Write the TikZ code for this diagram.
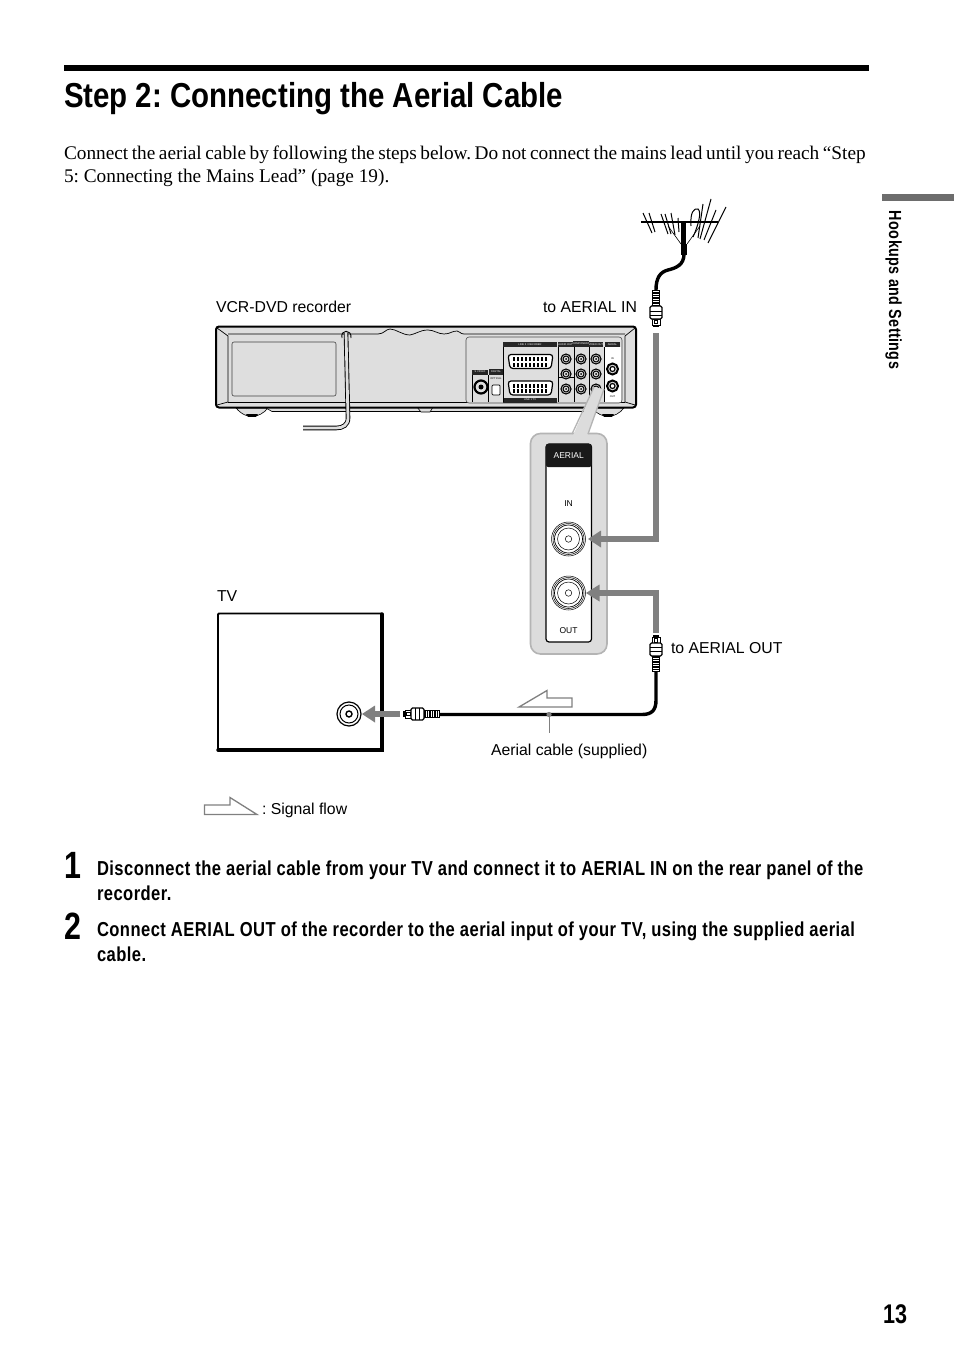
\documentclass[tikz,border=0pt]{standalone}
\usepackage{fontspec}
\setmainfont{Liberation Serif}
\setsansfont{Liberation Sans}
\newfontfamily\condb{Liberation Sans}[FakeStretch=0.8]
\newfontfamily\condt{Liberation Sans}[FakeStretch=0.85]
\newfontfamily\condc{Liberation Sans}[FakeStretch=0.82,LetterSpace=2.2]
\newcommand{\fsz}[1]{\fontsize{#1bp}{#1bp}\selectfont}
\definecolor{flowgray}{HTML}{808080}
\definecolor{boxgray}{HTML}{DCDCDC}
\definecolor{boxedge}{HTML}{B4B4B4}
\definecolor{bodygray}{HTML}{DEDEDE}
\tikzset{
  every node/.style={inner sep=0pt,outer sep=0pt},
  label/.style={font=\sffamily\fsz{15.8},anchor=base west,text=black},
  body/.style={font=\rmfamily\fsz{19.3},anchor=base west,text=black},
  stepline/.style={font=\condc\bfseries\fsz{20.2},anchor=base west,text=black},
  stepnum/.style={font=\condb\bfseries\fsz{38},anchor=base west,text=black},
  flow/.style={draw=flowgray,line width=6bp},
  flowhead/.style={fill=flowgray,draw=none},
  outlinearrow/.style={draw=flowgray,fill=white,line width=1.3bp,line join=miter},
  cablewire/.style={draw=black,line width=3.4bp},
  port/.style={circle,draw=black,line width=.7bp,fill=white},
  tinyhead/.style={fill=black!85,text=white,font=\sffamily\fsz{2.6},align=center,inner sep=0pt},
  tinytext/.style={font=\sffamily\fsz{2.6},text=black},
  plugpic/.pic={
    \fill[black] (0,-3.2) rectangle (2,3.2);
    \draw[black,fill=white,line width=.9bp] (2,-4) rectangle (8,4);
    \draw[black,line width=.7bp] (3.5,-1.5) rectangle (7,1.5);
    \draw[black,fill=white,line width=1.1bp,rounded corners=1.5bp] (8,-6) rectangle (21,6);
    \draw[black,line width=.8bp] (12,-6)--(12,6) (16,-6)--(16,6);
    \fill[black] (21,-4.2) rectangle (37,4.2);
    \foreach \q in {23,25.5,...,36}{\draw[white,line width=.7bp] (\q,-3.2)--(\q,3.2);}
  }
}
\begin{document}
\frenchspacing
\begin{tikzpicture}[x=1bp,y=-1bp]
\useasboundingbox (0,0) rectangle (954,1352);
\fill[white] (0,0) rectangle (954,1352);

% page furniture
\fill[black] (64,65) rectangle (869,71);
\node[font=\condt\bfseries\fsz{34.65},anchor=base west] (title) at (64,108) {Step 2: Connecting the Aerial Cable};
\node[body] (introa) at (64,160) {\spaceskip=3.55bp Connect the aerial cable by following the steps below. Do not connect the mains lead until you reach “Step};
\node[body] (introb) at (64,183) {5: Connecting the Mains Lead” (page 19).};
\fill[flowgray!85!black] (882,194) rectangle (954,201.5);
\node[font=\condc\bfseries\fsz{17.5},rotate=-90,anchor=base west] (side) at (889,211) {Hookups and Settings};
\node[font=\condb\bfseries\fsz{27},anchor=base west] (pagenum) at (883,1323) {13};

% labels
\node[label] (lrec) at (216,312) {VCR-DVD recorder};
\node[label] (lin) at (543,312) {to AERIAL IN};
\node[label] (ltv) at (217,601) {TV};
\node[label] (lout) at (671,653) {to AERIAL OUT};
\node[label] (lcable) at (491,755) {Aerial cable (supplied)};
\node[label] (lflow) at (262,814) {: Signal flow};

% recorder
\draw[black,fill=bodygray,line width=.6bp] (236,408) .. controls (242,415) and (248,416.5) .. (252,416.5) .. controls (258,416.5) and (264,413) .. (268,408) -- cycle;
\fill[black] (246,414) -- (258,414) -- (256,416.8) -- (248,416.8) -- cycle;
\draw[black,fill=bodygray,line width=.6bp] (592,408) .. controls (596,414) and (604,416.5) .. (608,416.5) .. controls (614,416.5) and (620,413) .. (624,408) -- cycle;
\fill[black] (602,414) -- (614,414) -- (612,416.8) -- (604,416.8) -- cycle;
\draw[black,fill=bodygray,line width=.6bp] (266,408) -- (272,411.5) -- (592,411.5) -- (592,408);
\draw[black,fill=bodygray,line width=.6bp] (417,407) -- (421,412) -- (430,412) -- (433,407);
\draw[black,fill=bodygray,line width=2bp,rounded corners=3bp] (216,326.5) rectangle (636,407.5);
\draw[black,line width=.7bp] (217,328) -- (228,336) -- (228,402) -- (217,405);
\draw[black,line width=.7bp] (635,328) -- (625,336) -- (625,402) -- (635,405);
\draw[black,line width=.7bp] (228,402) -- (625,402);
\draw[black!75,line width=.6bp,rounded corners=2bp] (232,342) rectangle (336,396);
\draw[black,line width=.7bp] (228,334) -- (352,334) -- (378,334) .. controls (384,334) and (386,329) .. (390,329)
  .. controls (396,329) and (402,335) .. (410,335) .. controls (416,334) and (420,330) .. (428,330)
  .. controls (434,330) and (438,334) .. (444,334) .. controls (450,334) and (452,331) .. (457,331)
  .. controls (460,331) and (460,334) .. (464,334) -- (625,334);

% panel of the recorder
\draw[black!70,fill=bodygray,line width=.6bp,rounded corners=3bp] (466,337) rectangle (622,403);
\fill[white] (605,347) rectangle (621,402);
\node[tinyhead,minimum width=54bp,minimum height=5bp] (hscarta) at (530,344.5) {LINE 3 / DECODER};
\node[tinyhead,minimum width=54bp,minimum height=5bp] (hscartb) at (530,400) {LINE 1 TV};
\node[tinyhead,minimum width=15bp,minimum height=5bp] (haudio) at (565.5,344.5) {AUDIO OUT};
\node[tinyhead,minimum width=14bp,minimum height=6bp] (hcomp) at (581,344) {COMPONENT};
\node[tinyhead,minimum width=14bp,minimum height=5bp] (hvideo) at (596,344.5) {VIDEO OUT};
\node[tinyhead,minimum width=15bp,minimum height=5bp] (haerial) at (612.5,344.5) {AERIAL};
\node[tinyhead,minimum width=16bp,minimum height=5bp] (hsv) at (480,372) {S VIDEO};
\node[tinyhead,minimum width=14bp,minimum height=6bp] (hdig) at (496,372) {DIGITAL};
\draw[black,line width=.5bp] (558,347) -- (558,402) (574,347) -- (574,402) (589,347) -- (589,402) (604,347) -- (604,402)
  (472,375) -- (472,402) (488,375) -- (488,402) (503,347) -- (503,402) (558,377) -- (574,377);
\foreach \n/\yy in {a/354.5,b/381}{
  \draw[black,fill=white,line width=1.2bp,rounded corners=3bp] (508,\yy) -- (553,\yy) -- (551,\yy+14) -- (510,\yy+14) -- cycle;
  \foreach \q in {513,517,...,547}{\fill[black] (\q,\yy+2.5) rectangle (\q+2,\yy+6.5); \fill[black] (\q,\yy+8) rectangle (\q+2,\yy+12);}
}
\foreach \px in {566,581,596}{\foreach \py in {359,374,389}{
  \node[port,minimum size=10bp,line width=1.1bp,fill=bodygray] (p\px\py) at (\px,\py) {};
  \node[port,minimum size=6bp,line width=1bp,fill=bodygray] at (\px,\py) {};
  \fill[black] (\px,\py) circle (1bp);
}}
\foreach \py in {369,386}{
  \node[port,minimum size=11bp,line width=2bp,fill=bodygray] (ae\py) at (612.5,\py) {};
  \node[port,minimum size=5bp,line width=1.2bp] at (612.5,\py) {};
}
\node[port,minimum size=13bp,line width=2.2bp,fill=bodygray] (svid) at (481,387) {};
\fill[black] (481,387) circle (2.5bp);
\draw[black,fill=white,line width=.7bp,rounded corners=1bp] (492,385) rectangle (500,395);
\node[tinytext] (topt) at (496,379) {OPTICAL};
\node[tinytext] (tin) at (612.5,359) {IN};
\node[tinytext] (tout) at (612.5,397) {OUT};

% power cord
\coordinate (cordtop) at (346,333);
\coordinate (cordend) at (303,428);
\draw[black,line width=.9bp] (342,338) .. controls (340,329) and (352,329) .. (351,338);
\draw[black,line width=4.6bp] (cordtop) -- (348,418) .. controls (348,425) and (343,428) .. (336,428) -- (cordend);
\draw[bodygray,line width=2.8bp] (cordtop) -- (348,418) .. controls (348,425) and (343,428) .. (336,428) -- (cordend);

% callout
\draw[boxedge,fill=boxgray,line width=1.6bp,rounded corners=10bp] (530.5,433.5) rectangle (607,654);
\path[fill=boxgray] (572.8,436) -- (594,387) -- (604,389) -- (587.2,436) -- cycle;
\draw[boxedge,line width=1.3bp] (572,434) -- (594,387) (604,389) -- (588,434);
\draw[black,fill=white,line width=1.2bp,rounded corners=3bp] (546,444) rectangle (591.5,642);
\fill[black!90,rounded corners=2bp] (546,444) rectangle (591.5,467);
\node[font=\sffamily\fsz{8.5},text=white] (taerial) at (568.7,456) {AERIAL};
\node[font=\sffamily\fsz{8.5}] (tbig1) at (568.5,504) {IN};
\node[font=\sffamily\fsz{8.5}] (tbig2) at (568.5,631) {OUT};
\foreach \nm/\yy in {portin/539,portout/593}{
  \draw[black,line width=.5bp] (568.5,\yy) circle (17bp) (568.5,\yy) circle (15.5bp);
  \draw[black,line width=.7bp] (568.5,\yy) circle (14bp);
  \draw[black,line width=.5bp] (568.5,\yy) circle (11bp);
  \node[port,minimum size=6.5bp,line width=.5bp] (\nm) at (568.5,\yy) {};
}

% signal flow arrows to the recorder
\coordinate (intop) at (656,333);
\coordinate (outbottom) at (656,633);
\draw[flow] (intop) -- (656,539) -- (598,539);
\fill[flowhead] (588,539) -- (601,530.5) -- (601,547.5) -- cycle;
\draw[flow] (outbottom) -- (656,593) -- (597,593);
\fill[flowhead] (586,593) -- (599.5,584.5) -- (599.5,601.5) -- cycle;

% antenna
\draw[black,line width=1.2bp] (641,222) -- (718,222);
\draw[black,line width=1bp] (643,213) -- (652,233) (649,213) -- (655,232) (661,214) -- (668,234) (665,214) -- (671,234) (671,213) -- (675,235) (678,218) -- (679,232);
\draw[black,line width=1bp] (691,226) .. controls (690,212) and (694,208) .. (698,209) .. controls (702,212) and (698,226) .. (693,237);
\draw[black,line width=1bp] (703,204) -- (698,238) (711,199) -- (700,239) (716,210) -- (704,240) (726,207) -- (708,243);
\draw[black,line width=.6bp] (668,226) -- (681,244) (700,226) -- (687,244);
\fill[black] (681,221) rectangle (686,245);
\fill[black] (680.5,244) rectangle (687,255);
\coordinate (antfoot) at (684,254);
\coordinate (plugupend) at (656,290);
\draw[cablewire] (antfoot) .. controls (684,265) and (676,268) .. (668,270) .. controls (660,272) and (656,278) .. (plugupend);

% plugs
\pic[shift={(656,327)},rotate=90] {plugpic};
\pic[shift={(656,635)},rotate=-90] {plugpic};
\pic[shift={(403,714)}] {plugpic};

% tv
\draw[black,line width=1.8bp,fill=white,rounded corners=1bp] (218,613.5) rectangle (382,750);
\draw[black,line width=3.4bp,line cap=round] (382,614) -- (382,750) -- (218,750);
\node[port,minimum size=24bp,line width=1.2bp] (tvport) at (349,714) {};
\node[port,minimum size=18bp,line width=1bp] at (349,714) {};
\node[port,minimum size=6bp,line width=1.4bp] at (349,714) {};
\coordinate (tvarrowend) at (400,714);
\draw[flow] (tvarrowend) -- (372,714);
\fill[flowhead] (362,714) -- (375,705.5) -- (375,722.5) -- cycle;

% aerial cable
\coordinate (cablea) at (440,714.5);
\coordinate (cableb) at (656,672);
\draw[cablewire] (cablea) -- (642,714.5) .. controls (652,714.5) and (656,710) .. (656,700) -- (cableb);

% outline arrows
\draw[outlinearrow] (519,707) -- (547,690.5) -- (547,698) -- (572,698) -- (572,707) -- cycle;
\draw[outlinearrow] (204.5,805) -- (230,805) -- (230,797.5) -- (257,814.5) -- (204.5,814.5) -- cycle;
\fill[flowgray] (549,714.5) circle (2.6bp);
\coordinate (leader) at (549,733);
\draw[flowgray,line width=1bp] (549,714.5) -- (leader);

% steps
\node[stepnum] (n1) at (64,878) {1};
\node[stepline] (s1a) at (97,875) {Disconnect the aerial cable from your TV and connect it to AERIAL IN on the rear panel of the};
\node[stepline] (s1b) at (97,900) {recorder.};
\node[stepnum] (n2) at (64,939) {2};
\node[stepline] (s2a) at (97,936) {Connect AERIAL OUT of the recorder to the aerial input of your TV, using the supplied aerial};
\node[stepline] (s2b) at (97,961) {cable.};
\end{tikzpicture}
\end{document}
